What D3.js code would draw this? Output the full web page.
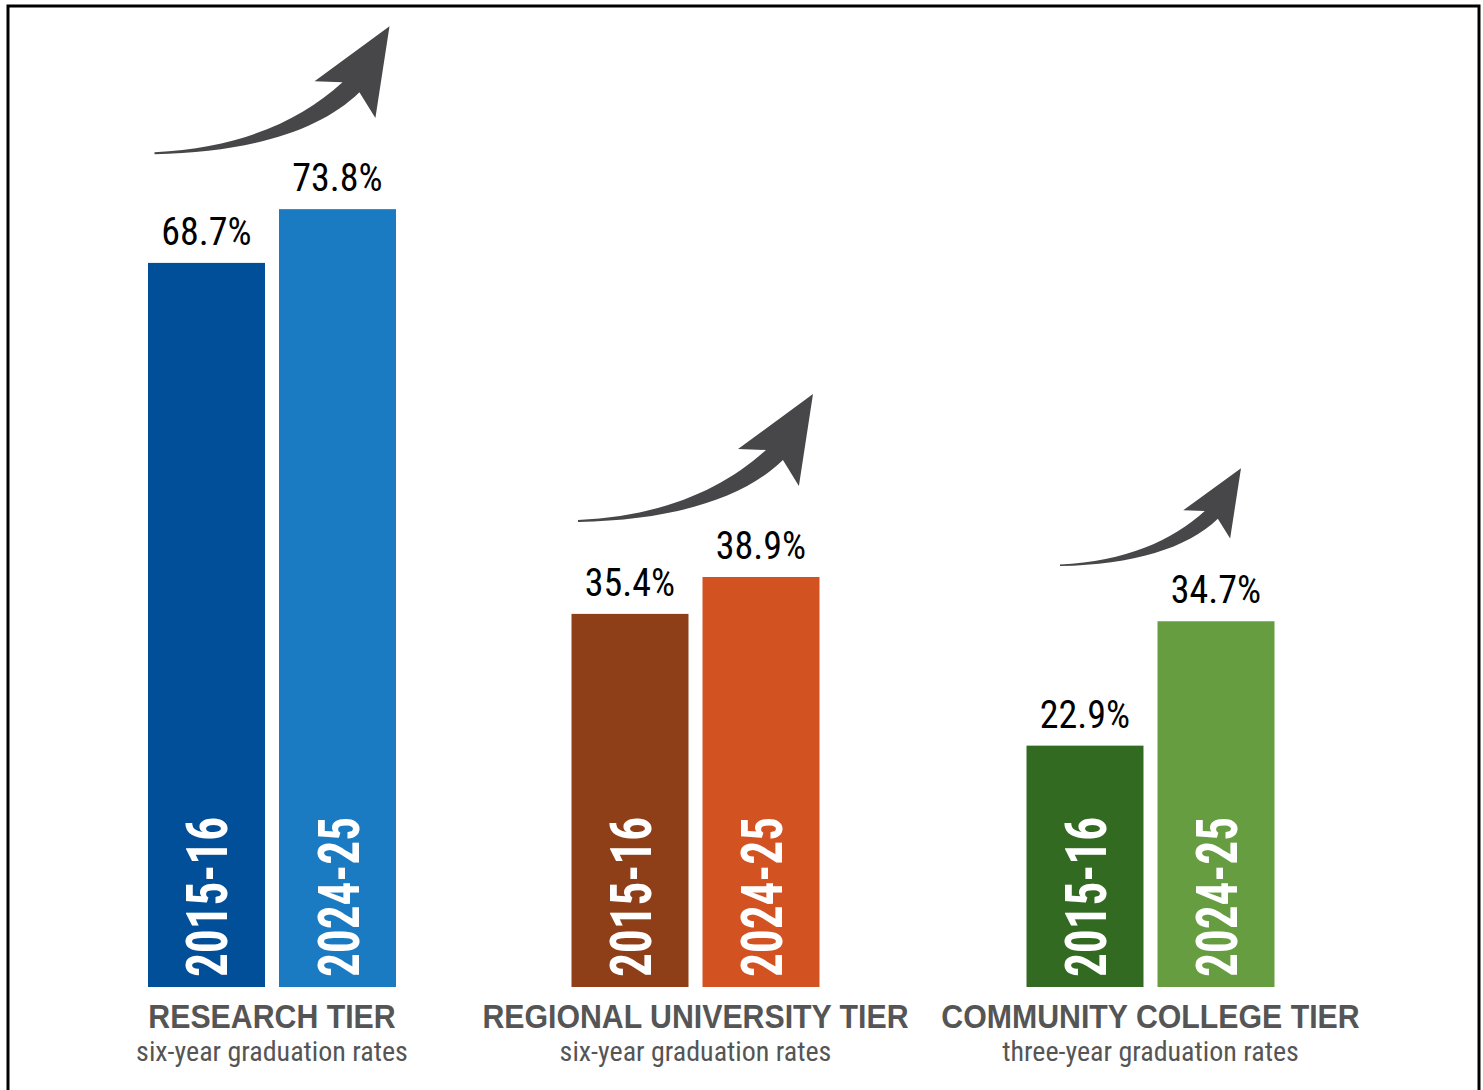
<!DOCTYPE html>
<html>
<head>
<meta charset="utf-8">
<script src="https://cdn.jsdelivr.net/npm/d3@7"></script>
<style>
  html, body { margin: 0; padding: 0; background: #fff; }
  svg { display: block; }
</style>
</head>
<body>
<svg id="chart" width="1483" height="1090"></svg>
<script>
// ---- data ----
const tiers = ["RESEARCH TIER", "REGIONAL UNIVERSITY TIER", "COMMUNITY COLLEGE TIER"];
const subtitles = ["six-year graduation rates", "six-year graduation rates", "three-year graduation rates"];
const years = ["2015-16", "2024-25"];
const values2015 = [68.7, 35.4, 22.9];
const values2024 = [73.8, 38.9, 34.7];

// ---- styles / layout ----
const colors = [["#014f98", "#1a7bc2"], ["#8f3f17", "#d25222"], ["#336a22", "#679d41"]];
const groupCenters = [272, 695.5, 1150.5];
const arrowSizes = [[235, 127], [235, 127], [181, 97]];
const baseY = 987;
const narrow = "'Liberation Sans Narrow', 'Arial Narrow', 'Roboto Condensed', sans-serif";
const regular = "'Liberation Sans', Arial, Helvetica, sans-serif";

const svg = d3.select("#chart");

// border
svg.append("rect").attr("x", 8).attr("y", 6).attr("width", 1471).attr("height", 1100)
  .attr("fill", "none").attr("stroke", "#000").attr("stroke-width", 3);

const y = d3.scaleLinear().domain([0, 100]).range([baseY, baseY - 1054]);
const x0 = d3.scaleOrdinal().domain(tiers).range(groupCenters);
const x1 = d3.scaleBand().domain(years).range([-124, 124]).paddingInner(0.107).paddingOuter(0);

const data = tiers.map((t, i) => ({
  tier: t, sub: subtitles[i], i,
  vals: [values2015[i], values2024[i]]
}));

const g = svg.selectAll("g.tier").data(data).join("g")
  .attr("class", "tier")
  .attr("transform", d => `translate(${x0(d.tier)},0)`);

g.each(function(d) {
  const gg = d3.select(this);
  const bars = years.map((yr, j) => ({ yr, v: d.vals[j], c: colors[d.i][j] }));
  gg.selectAll("rect.bar").data(bars).join("rect")
    .attr("class", "bar")
    .attr("x", b => x1(b.yr))
    .attr("y", b => y(b.v))
    .attr("width", x1.bandwidth())
    .attr("height", b => y(0) - y(b.v))
    .attr("fill", b => b.c);

  // value labels
  gg.selectAll("text.val").data(bars).join("text")
    .attr("class", "val")
    .attr("x", b => x1(b.yr) + x1.bandwidth() / 2)
    .attr("y", b => y(b.v) - 18)
    .attr("text-anchor", "middle")
    .attr("font-family", narrow)
    .attr("font-size", 38)
    .attr("fill", "#000")
    .text(b => b.v.toFixed(1) + "%");

  // year labels rotated
  gg.selectAll("text.yr").data(bars).join("text")
    .attr("class", "yr")
    .attr("transform", b => `translate(${x1(b.yr) + x1.bandwidth() / 2 + 21},${baseY - 10}) rotate(-90)`)
    .attr("font-family", narrow)
    .attr("font-weight", "bold")
    .attr("font-size", 57)
    .attr("fill", "#fff")
    .attr("textLength", 160)
    .attr("lengthAdjust", "spacingAndGlyphs")
    .text(b => b.yr);

  // arrow
  const [aw, ah] = arrowSizes[d.i];
  const tailY = y(d.vals[1]) - 56;
  const ax = d3.scaleLinear().domain([0, 1]).range([-aw / 2, aw / 2]);
  const ay = d3.scaleLinear().domain([0, 1]).range([tailY, tailY - ah]);
  const P = (u, w) => [ax(u), ay(w)];
  const p = d3.path();
  p.moveTo(...P(0, 0.008));
  p.bezierCurveTo(...P(0.362, 0.039), ...P(0.617, 0.252), ...P(0.8, 0.559));
  p.lineTo(...P(0.681, 0.567));
  p.lineTo(...P(1, 1));
  p.lineTo(...P(0.94, 0.276));
  p.lineTo(...P(0.872, 0.48));
  p.bezierCurveTo(...P(0.702, 0.173), ...P(0.404, 0.008), ...P(0, -0.008));
  p.closePath();
  gg.append("path").attr("d", p.toString()).attr("fill", "#47474a");
});

// category labels
g.append("text")
  .attr("transform", "translate(0,1028) scale(0.918,1)")
  .attr("text-anchor", "middle")
  .attr("font-family", regular)
  .attr("font-weight", "bold")
  .attr("font-size", 33)
  .attr("fill", "#555")
  .text(d => d.tier);

g.append("text")
  .attr("x", 0).attr("y", 1061)
  .attr("text-anchor", "middle")
  .attr("font-family", narrow)
  .attr("font-size", 28)
  .attr("fill", "#555")
  .text(d => d.sub);
</script>
</body>
</html>
